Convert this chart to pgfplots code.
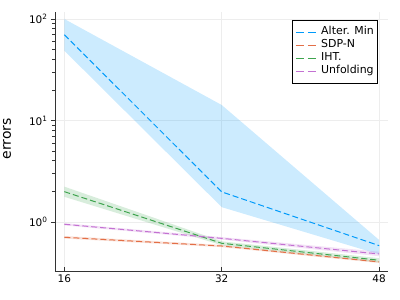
\documentclass[border=0pt]{standalone}
\usepackage{pgfplots}
\pgfplotsset{compat=1.18}
\usepackage{fontspec}
\setmainfont{DejaVu Sans}
\definecolor{c1}{RGB}{0,154,250}
\definecolor{c2}{RGB}{227,111,71}
\definecolor{c3}{RGB}{62,164,78}
\definecolor{c4}{RGB}{195,113,210}
\begin{document}
\begin{tikzpicture}
\useasboundingbox (-55bp,-29bp) rectangle (345bp,271bp);
\begin{axis}[
  at={(0,0)}, anchor=south west,
  scale only axis, width=333bp, height=259bp,
  ymode=log,
  xmin=15.05, xmax=48.9, ymin=0.329, ymax=117.2,
  axis x line*=bottom, axis y line*=left,
  axis line style={black!80, line width=0.9bp},
  xtick={16,32,48}, xticklabels={16,32,48},
  ytick={1,10,100}, yticklabels={10\textsuperscript{0},10\textsuperscript{1},10\textsuperscript{2}},
  minor tick num=0, minor ytick={},
  major tick length=4bp,
  every tick/.style={black!80, line width=0.8bp},
  xtick align=inside, ytick align=outside,
  tick label style={font=\fontsize{10.5}{12}\selectfont},
  grid=major,
  major grid style={black!7, line width=0.5bp},
  ylabel={errors},
  ylabel style={at={(axis description cs:-0.144,0.51)}, anchor=center, font=\fontsize{14}{16}\selectfont},
  legend style={at={(axis description cs:0.97,0.969)}, anchor=north east,
    draw=black, line width=0.7bp, font=\fontsize{11}{13}\selectfont,
    inner xsep=3bp, inner ysep=5.7bp, row sep=0.9bp, column sep=3bp,
    nodes={inner sep=0.8bp, text height=8bp, text depth=2.5bp}},
  legend cell align=left,
  legend image code/.code={\draw[#1, line width=1.2bp, dash pattern=on 8bp off 4bp] (0bp,0bp) -- (21bp,0bp);},
  every axis plot/.append style={line width=1bp, dash pattern=on 6bp off 3bp},
]
% bands
\addplot[forget plot, fill=c1, fill opacity=0.2, draw=none, solid] coordinates {(16,100)(32,14.2)(48,0.665)(48,0.48)(32,1.40)(16,48.7)};
\addplot[forget plot, fill=c2, fill opacity=0.2, draw=none, solid] coordinates {(16,0.728)(32,0.595)(48,0.414)(48,0.394)(32,0.565)(16,0.686)};
\addplot[forget plot, fill=c3, fill opacity=0.2, draw=none, solid] coordinates {(16,2.23)(32,0.645)(48,0.44)(48,0.40)(32,0.59)(16,1.77)};
\addplot[forget plot, fill=c4, fill opacity=0.2, draw=none, solid] coordinates {(16,0.975)(32,0.71)(48,0.51)(48,0.46)(32,0.67)(16,0.925)};
% lines
\addplot[color=c1] coordinates {(16,70)(32,1.98)(48,0.585)};
\addlegendentry{Alter. Min}
\addplot[color=c2] coordinates {(16,0.707)(32,0.58)(48,0.404)};
\addlegendentry{SDP-N}
\addplot[color=c3] coordinates {(16,1.99)(32,0.617)(48,0.42)};
\addlegendentry{IHT.}
\addplot[color=c4] coordinates {(16,0.95)(32,0.69)(48,0.484)};
\addlegendentry{Unfolding}
\end{axis}
\end{tikzpicture}
\end{document}
